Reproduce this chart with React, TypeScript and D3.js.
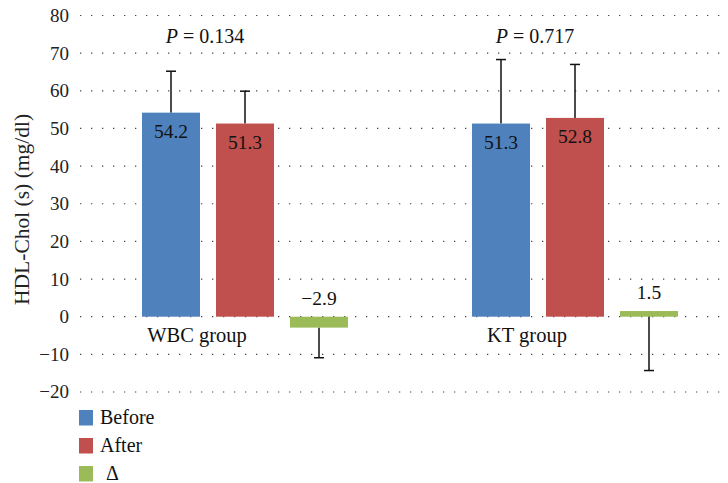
import React from 'react';
import * as d3 from 'd3';

const groups = ['WBC group', 'KT group'];
const seriesNames = ['Before', 'After', 'Δ'];
const seriesColors = ['#4F81BD', '#C0504D', '#9BBB59'];
const wbcValues = [54.2, 51.3, -2.9];
const ktValues = [51.3, 52.8, 1.5];
const wbcErrors = [11.0, 8.6, 8.0];
const ktErrors = [17.0, 14.2, 15.8];
const pValues = ['0.134', '0.717'];
const yTicks = [-20, -10, 0, 10, 20, 30, 40, 50, 60, 70, 80];

const W = 728;
const H = 483;
const FONT = '"Liberation Serif", "Times New Roman", serif';

const App: React.FC = () => {
    const values = [wbcValues, ktValues];
    const errors = [wbcErrors, ktErrors];

    const y = d3.scaleLinear().domain([-20, 80]).range([392, 15.5]);
    const xGroup = d3.scaleBand<string>().domain(groups).range([80, 740]).padding(0);
    const xSeries = d3.scaleBand<string>()
        .domain(seriesNames)
        .range([-111, 111])
        .paddingInner(0.216)
        .paddingOuter(0.108);

    const bw = xSeries.bandwidth();
    const center = (g: string) => (xGroup(g) ?? 0) + xGroup.bandwidth() / 2;

    return (
        <svg
            width={W}
            height={H}
            style={{ position: 'absolute', left: 0, top: 0, fontFamily: FONT }}
        >
            {/* gridlines */}
            {yTicks.map(t => (
                <line
                    key={t}
                    x1={80}
                    x2={W}
                    y1={y(t)}
                    y2={y(t)}
                    stroke="#444"
                    strokeWidth={1.2}
                    strokeDasharray="1.3 9.7"
                />
            ))}
            {yTicks.map(t => (
                <text
                    key={'l' + t}
                    x={69}
                    y={y(t)}
                    dy="0.34em"
                    textAnchor="end"
                    fontSize={19}
                    fill="#222"
                >
                    {t < 0 ? '\u2212' + Math.abs(t) : t}
                </text>
            ))}
            <text
                transform={`translate(29, ${y(28.5)}) rotate(-90)`}
                textAnchor="middle"
                fontSize={21.5}
                fill="#222"
            >
                HDL-Chol (s) (mg/dl)
            </text>

            {groups.map((g, gi) => (
                <g key={g}>
                    {/* error bars */}
                    {seriesNames.map((s, si) => {
                        const v = values[gi][si];
                        const e = errors[gi][si];
                        const cx = center(g) + (xSeries(s) ?? 0) + bw / 2;
                        const end = v >= 0 && si < 2 ? v + e : v - e;
                        return (
                            <g key={s} stroke="#111" strokeWidth={1.5}>
                                <line x1={cx} x2={cx} y1={y(v)} y2={y(end)} />
                                <line x1={cx - 5} x2={cx + 5} y1={y(end)} y2={y(end)} />
                            </g>
                        );
                    })}
                    {/* bars */}
                    {seriesNames.map((s, si) => {
                        const v = values[gi][si];
                        const x0 = center(g) + (xSeries(s) ?? 0);
                        return (
                            <rect
                                key={s}
                                x={x0}
                                width={bw}
                                y={y(Math.max(0, v))}
                                height={Math.abs(y(v) - y(0))}
                                fill={seriesColors[si]}
                            />
                        );
                    })}
                    {/* value labels */}
                    {seriesNames.map((s, si) => {
                        const v = values[gi][si];
                        const cx = center(g) + (xSeries(s) ?? 0) + bw / 2;
                        const ly = si < 2 ? y(v) + 25 : y(Math.max(0, v)) - 12;
                        return (
                            <text
                                key={s}
                                x={cx}
                                y={ly}
                                textAnchor="middle"
                                fontSize={19.5}
                                fill="#111"
                            >
                                {v < 0 ? '\u2212' + Math.abs(v) : v}
                            </text>
                        );
                    })}
                    <text
                        x={center(g) - 40}
                        y={43}
                        textAnchor="middle"
                        fontSize={20}
                        fill="#111"
                    >
                        <tspan fontStyle="italic">P</tspan> = {pValues[gi]}
                    </text>
                    <text
                        x={center(g) - 48}
                        y={342}
                        textAnchor="middle"
                        fontSize={20.5}
                        fill="#111"
                    >
                        {g}
                    </text>
                </g>
            ))}

            {/* legend */}
            {seriesNames.map((s, si) => (
                <g key={s} transform={`translate(79, ${410 + si * 28})`}>
                    <rect width={14} height={15.5} fill={seriesColors[si]} />
                    <text x={si === 2 ? 27 : 21} y={14} fontSize={20} fill="#111">
                        {s}
                    </text>
                </g>
            ))}
        </svg>
    );
};

export default App;
